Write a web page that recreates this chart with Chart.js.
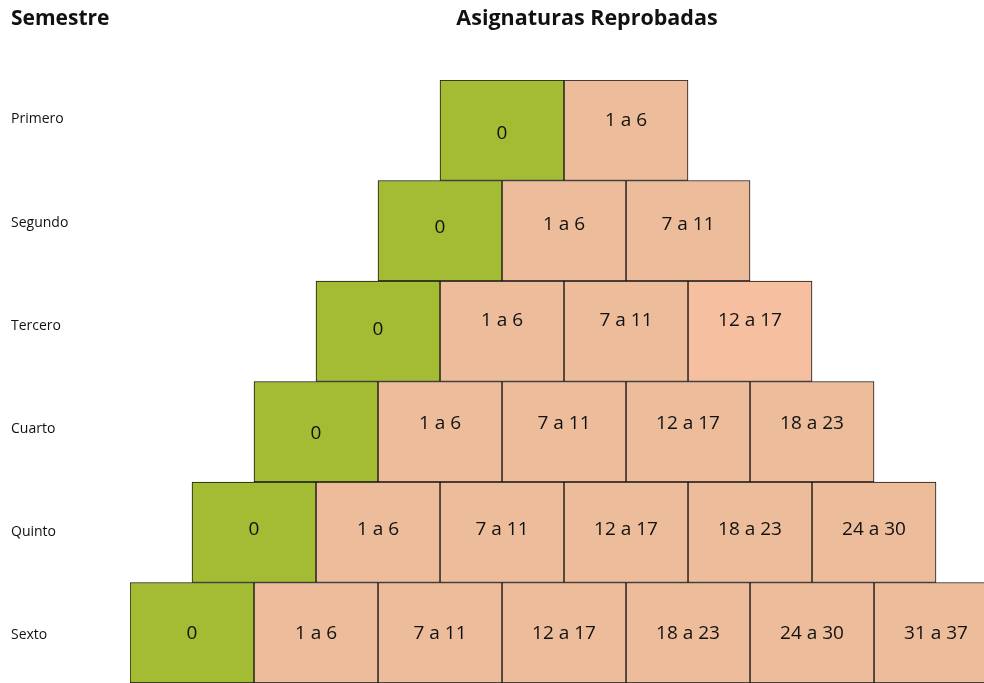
<!DOCTYPE html>
<html>
<head>
<meta charset="utf-8">
<script src="https://cdn.jsdelivr.net/npm/chart.js@4/dist/chart.umd.min.js"></script>
<style>
  html, body { margin: 0; padding: 0; background: #fff; }
  #wrap { position: relative; width: 984px; height: 683px; }
</style>
</head>
<body>
<div id="wrap"><canvas id="chart"></canvas></div>
<script>
// ===== Data =====
const SEMESTRES = ["Primero", "Segundo", "Tercero", "Cuarto", "Quinto", "Sexto"];
const RANGOS = ["0", "1 a 6", "7 a 11", "12 a 17", "18 a 23", "24 a 30", "31 a 37"];
const RANGOS_POR_SEMESTRE = [2, 3, 4, 5, 6, 7];

// ===== Styles =====
const VERDE = "#a4bb34";
const NARANJA = "#edbd9b";
const NARANJA_CLARO = "#f6bfa0";
const BORDE = "#151515";
const FONT = "'Open Sans', 'Noto Sans', sans-serif";
// vertical nudge of cell labels, per row (green cell / orange cells)
const DY_VERDE = [3, -3, -2, 2, -3, 1];
const DY_NARANJA = [-10, -6, -11, -8, -3, 1];

const maxCols = RANGOS.length;

// one dataset per column; each row is centred like a pyramid
const datasets = RANGOS.map((rango, c) => ({
  label: rango,
  data: RANGOS_POR_SEMESTRE.map((n) => {
    if (c >= n) return null;
    const start = (maxCols - n) / 2 + c;
    return [start, start + 1];
  }),
  backgroundColor: (ctx) => {
    if (c === 0) return VERDE;
    if (ctx.dataIndex === 2 && c === 3) return NARANJA_CLARO;
    return NARANJA;
  },
  borderColor: BORDE,
  borderWidth: 1,
  borderSkipped: false,
  grouped: false,
  barPercentage: 1,
  categoryPercentage: 1,
}));

const cellLabels = {
  id: "cellLabels",
  afterDatasetsDraw(chart) {
    const ctx = chart.ctx;
    ctx.save();
    ctx.font = `19px ${FONT}`;
    ctx.fillStyle = "#111";
    ctx.textAlign = "center";
    ctx.textBaseline = "middle";
    chart.data.datasets.forEach((ds, c) => {
      chart.getDatasetMeta(c).data.forEach((bar, r) => {
        if (!ds.data[r]) return;
        const dy = c === 0 ? DY_VERDE[r] : DY_NARANJA[r];
        ctx.fillText(ds.label, (bar.x + bar.base) / 2, bar.y + dy);
      });
    });
    ctx.restore();
  },
};

const headers = {
  id: "headers",
  afterDraw(chart) {
    const ctx = chart.ctx;
    ctx.save();
    ctx.font = `bold 21px ${FONT}`;
    ctx.fillStyle = "#111";
    ctx.textBaseline = "alphabetic";
    ctx.textAlign = "left";
    ctx.fillText("Semestre", 11, 25);
    ctx.font = `bold 21.5px ${FONT}`;
    ctx.textAlign = "center";
    ctx.fillText("Asignaturas Reprobadas", 587, 25);
    ctx.restore();
  },
};

new Chart(document.getElementById("chart"), {
  type: "bar",
  data: { labels: SEMESTRES, datasets },
  options: {
    indexAxis: "y",
    responsive: true,
    maintainAspectRatio: false,
    animation: false,
    layout: { padding: { top: 80, left: 11, right: 0, bottom: 0 } },
    scales: {
      x: { type: "linear", min: 0, max: 6.887, display: false },
      y: { type: "category", display: false },
      yRows: {
        type: "linear",
        axis: "y",
        position: "left",
        reverse: true,
        offset: false,
        min: -0.383,
        max: 5.465,
        grid: { display: false },
        border: { display: false },
        afterBuildTicks: (axis) => {
          axis.ticks = SEMESTRES.map((_, i) => ({ value: i }));
        },
        afterFit: (axis) => {
          axis.width = 119;
          axis.paddingTop = 0;
          axis.paddingBottom = 0;
        },
        ticks: {
          crossAlign: "far",
          padding: 0,
          color: "#111",
          font: { family: FONT, size: 14 },
          callback: (v) => SEMESTRES[v],
        },
      },
    },
    plugins: {
      legend: { display: false },
      tooltip: { enabled: false },
    },
  },
  plugins: [cellLabels, headers],
});
</script>
</body>
</html>
